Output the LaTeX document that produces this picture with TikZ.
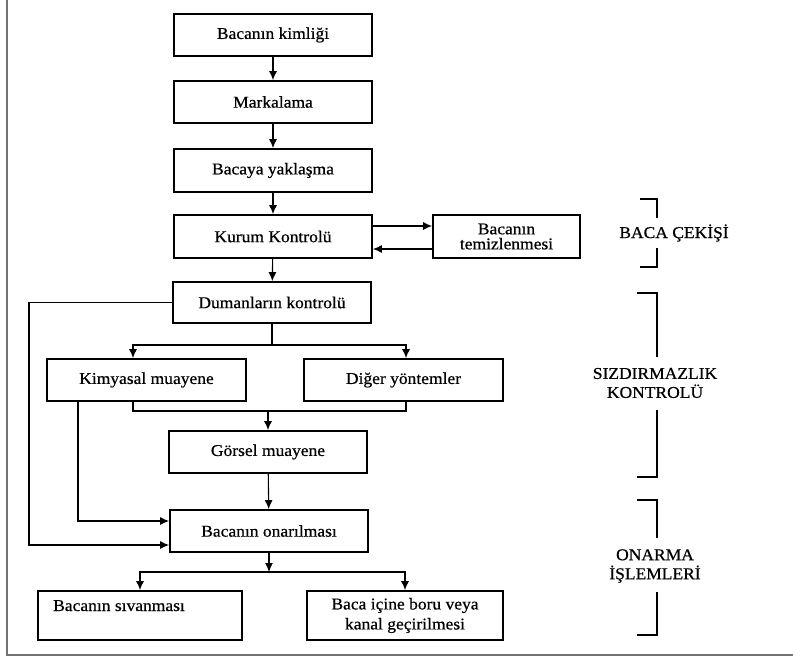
\documentclass[tikz,border=0pt]{standalone}
\usepackage{fontspec}
\setmainfont{Liberation Serif}[FakeBold=0.6, FakeStretch=1.06]
\usetikzlibrary{arrows.meta}
\begin{document}
\begin{tikzpicture}[x=1pt,y=-1pt,
  box/.style={draw, line width=1.8pt, minimum width=198pt, minimum height=42pt, inner sep=0pt,
              font=\fontsize{16.5}{15}\selectfont, align=center},
  arr/.style={line width=1.1pt, -{Latex[length=9pt,width=8pt]}},
  ln/.style={line width=1.1pt},
  brk/.style={line width=1.3pt},
  lab/.style={font=\fontsize{16.5}{19}\selectfont, align=center}]
\useasboundingbox (0,0) rectangle (793,660);
% frame
\draw[line width=1.4pt, black!55] (7,0) -- (7,655) -- (793,655);

% boxes
\node[box] (kimlik) at (273,35) {Bacanın kimliği};
\node[box] (marka)  at (273,102) {Markalama};
\node[box, minimum height=43pt] (yaklas) at (273,170.5) {Bacaya yaklaşma};
\node[box, minimum height=43pt] (kurum)  at (273,236.5) {Kurum Kontrolü};
\node[box, minimum width=147pt, minimum height=43pt] (temiz) at (506.5,236.5) {Bacanın\\temizlenmesi};
\node[box, minimum height=41pt] (duman) at (272,302.5) {Dumanların kontrolü};
\node[box, minimum width=199pt] (kimya) at (146.5,380) {Kimyasal muayene};
\node[box, minimum width=199pt] (diger) at (403.5,380) {Diğer yöntemler};
\node[box] (gorsel) at (268,452) {Görsel muayene};
\node[box] (onar) at (269,531) {Bacanın onarılması};
\node[box, minimum width=204pt, minimum height=49pt] (sivan) at (140,615.5) {};
\node[anchor=base west, inner sep=0pt, font=\fontsize{16.5}{15}\selectfont] (sivantxt) at (53,611) {Bacanın sıvanması};
\node[box, minimum width=196pt, minimum height=49pt, font=\fontsize{16.5}{20}\selectfont] (boru) at (405,615.5) {Baca içine boru veya\\kanal geçirilmesi};

% main chain
\draw[arr] (kimlik) -- (marka);
\draw[arr] (marka) -- (yaklas);
\draw[arr] (yaklas) -- (kurum);
\draw[arr] (kurum) -- (duman);
\draw[arr] ([yshift=10.5pt]kurum.east) -- ([yshift=10.5pt]kurum.east -| temiz.west);
\draw[arr] ([yshift=-12.5pt]temiz.west) -- ([yshift=-12.5pt]temiz.west -| kurum.east);

% split after duman
\coordinate (dj) at (272,345);
\coordinate (kimtop) at ([xshift=-13.5pt]kimya.north);
\coordinate (digtop) at ([xshift=2.5pt]diger.north);
\draw[ln] (duman.south) -- (dj);
\draw[arr] (dj) -| (kimtop);
\draw[arr] (dj) -| (digtop);

% merge to gorsel
\coordinate (kimbot) at ([xshift=-13.5pt]kimya.south);
\coordinate (digbot) at ([xshift=2.5pt]diger.south);
\coordinate (mj) at (268,411);
\draw[ln] (kimbot) |- (mj) -| (digbot);
\draw[arr] (mj) -- (gorsel.north);
\draw[arr] (gorsel) -- (onar);

% side lines into onar
\draw[arr] ([xshift=-68.5pt]kimya.south) |- ([yshift=10pt]onar.west);
\coordinate (lft) at (29,302.5);
\draw[arr] (duman.west) -- (lft) |- ([yshift=-14pt]onar.west);

% split after onar
\coordinate (bj) at (269,572);
\draw[arr] (onar.south) -- (bj);
\draw[arr] (bj) -| (sivan.north);
\draw[arr] (bj) -| (boru.north);

% brackets
\draw[brk] (640,199) -- (657,199) -- (657,218);
\draw[brk] (657,248) -- (657,267) -- (640,267);
\node[lab] (bc) at (674,233) {BACA ÇEKİŞİ};

\draw[brk] (637,293) -- (657,293) -- (657,357);
\draw[brk] (657,410) -- (657,477) -- (637,477);
\node[lab] (sk) at (655,383) {SIZDIRMAZLIK\\KONTROLÜ};

\draw[brk] (637,500) -- (657,500) -- (657,538);
\draw[brk] (657,592) -- (657,635) -- (637,635);
\node[lab] (oi) at (655,566) {ONARMA\\İŞLEMLERİ};
\end{tikzpicture}
\end{document}
